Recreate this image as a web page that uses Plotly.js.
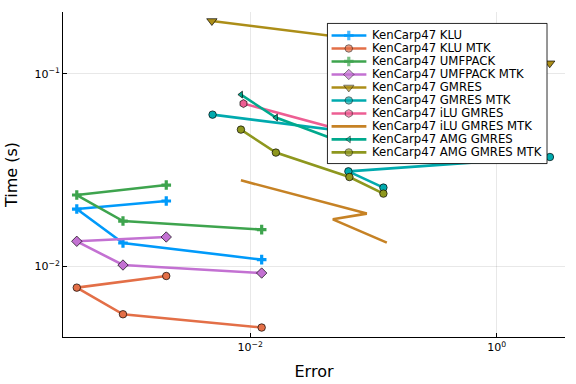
<!DOCTYPE html>
<html>
<head>
<meta charset="utf-8">
<script src="https://cdn.plot.ly/plotly-3.0.1.min.js"></script>
<style>html,body{margin:0;padding:0;background:#fff}#chart{width:576px;height:384px}</style>
</head>
<body>
<div id="chart"></div>
<script>
// ---- data (error, time in seconds) ----
const seriesNames = ["KenCarp47 KLU","KenCarp47 KLU MTK","KenCarp47 UMFPACK","KenCarp47 UMFPACK MTK","KenCarp47 GMRES","KenCarp47 GMRES MTK","KenCarp47 iLU GMRES","KenCarp47 iLU GMRES MTK","KenCarp47 AMG GMRES","KenCarp47 AMG GMRES MTK"];
const errDirect = [2.085e-3, 3.92e-4, 9.29e-4, 0.01239];
const timeKLU = [0.02189, 0.01989, 0.01326, 0.01087];
const timeKLU_MTK = [0.00894, 0.00778, 0.00566, 0.00483];
const timeUMFPACK = [0.02649, 0.02351, 0.01723, 0.01555];
const timeUMFPACK_MTK = [0.01424, 0.01353, 0.01019, 0.00926];
const errGMRES = [4.89e-3, 2.69];
const timeGMRES = [0.1879, 0.1134];
const errGMRES_MTK = [4.95e-3, 2.70, 0.0626, 0.1204];
const timeGMRES_MTK = [0.0614, 0.03702, 0.03120, 0.02569];
const errILU = [8.82e-3, 0.0975, 0.0589, 0.1365];
const timeILU = [0.07006, 0.04628, 0.04108, 0.03778];
const errILU_MTK = [8.41e-3, 0.0883, 0.04682, 0.1283];
const timeILU_MTK = [0.02803, 0.01883, 0.01759, 0.01332];
const errAMG = [8.41e-3, 0.01616, 0.0647, 0.1243];
const timeAMG = [0.07799, 0.05928, 0.04258, 0.03733];
const errAMG_MTK = [8.41e-3, 0.01616, 0.0638, 0.1204];
const timeAMG_MTK = [0.05135, 0.03903, 0.02915, 0.02391];

const xTickVals = [0.01, 1];
const xTickText = ["10<sup>\u22122</sup>", "10<sup>0</sup>"];
const yTickVals = [0.01, 0.1];
const yTickText = ["10<sup>\u22122</sup>", "10<sup>\u22121</sup>"];

// ---- styles ----
const colors = ["#009AFA","#E36F47","#3EA44E","#C371D2","#AC8E18","#00AAAE","#ED5E93","#C68225","#00A98D","#8E971E"];
const stroke = {color:"rgba(0,0,0,0.85)", width:0.8};
const markers = [
  {symbol:"cross", size:8, line:{width:0}},
  {symbol:"circle", size:7.5, line:stroke},
  {symbol:"cross", size:8, line:{width:0}},
  {symbol:"diamond", size:8, line:stroke},
  {symbol:"triangle-down", size:9, line:stroke},
  {symbol:"circle", size:7.5, line:stroke},
  {symbol:"hexagon", size:8, line:stroke},
  null,
  {symbol:"triangle-left", size:6, line:stroke},
  {symbol:"circle", size:7.5, line:stroke}
];
const xs = [errDirect, errDirect, errDirect, errDirect, errGMRES, errGMRES_MTK, errILU, errILU_MTK, errAMG, errAMG_MTK];
const ys = [timeKLU, timeKLU_MTK, timeUMFPACK, timeUMFPACK_MTK, timeGMRES, timeGMRES_MTK, timeILU, timeILU_MTK, timeAMG, timeAMG_MTK];

const LW = 2.6;
const W = 576, H = 384;
const M = {l:63, r:11, t:12, b:47};
const PW = W - M.l - M.r, PH = H - M.t - M.b;

const traces = [];
for (let i = 0; i < seriesNames.length; i++) {
  const mk = markers[i];
  const t = {
    type:"scatter", x: xs[i], y: ys[i], name: seriesNames[i],
    mode: mk ? "lines+markers" : "lines",
    line:{color:colors[i], width:LW},
    showlegend:false, xaxis:"x", yaxis:"y", cliponaxis:true
  };
  if (mk) t.marker = Object.assign({color:colors[i]}, mk);
  traces.push(t);
}

// ---- legend drawn in its own small subplot (box pixel units) ----
const box = {left:326.7, top:22.7, w:221, h:141.6};
const entry0 = 12.3, entryStep = 13.1;
const sampleX = [4.3, 21.6, 39.3];
const textX = 43.2;
traces.push({type:"scatter", x:[0, box.w, box.w, 0, 0], y:[0, 0, box.h, box.h, 0], mode:"lines",
  fill:"toself", fillcolor:"#ffffff", line:{color:"#000000", width:1}, showlegend:false,
  xaxis:"x2", yaxis:"y2", hoverinfo:"skip"});
const annotations = [];
for (let i = 0; i < seriesNames.length; i++) {
  const yy = entry0 + i * entryStep;
  const mk = markers[i];
  const t = {type:"scatter", x: sampleX, y:[yy, yy, yy], mode: mk ? "lines+markers" : "lines",
    line:{color:colors[i], width:LW}, showlegend:false, xaxis:"x2", yaxis:"y2", hoverinfo:"skip"};
  if (mk) t.marker = Object.assign({color:colors[i]}, mk, {size:[0, mk.size, 0]});
  traces.push(t);
  annotations.push({xref:"x2", yref:"y2", x:textX, y:yy, text:seriesNames[i], showarrow:false,
    xanchor:"left", yanchor:"middle", font:{family:"DejaVu Sans", size:11.7, color:"#000"}});
}
const dx0 = (box.left - M.l) / PW, dx1 = (box.left + box.w - M.l) / PW;
const dy1 = (M.t + PH - box.top) / PH, dy0 = (M.t + PH - box.top - box.h) / PH;

const axisCommon = {type:"log", showline:true, linecolor:"#000", linewidth:1, mirror:false,
  ticks:"inside", ticklen:4, tickcolor:"#000", tickwidth:1, showgrid:true,
  gridcolor:"rgba(0,0,0,0.09)", gridwidth:1, zeroline:false, tickmode:"array",
  tickfont:{family:"DejaVu Sans", size:11, color:"#000"}};

const layout = {
  width:W, height:H, margin:M, paper_bgcolor:"#fff", plot_bgcolor:"rgba(0,0,0,0)",
  font:{family:"DejaVu Sans", color:"#000"}, showlegend:false,
  xaxis: Object.assign({}, axisCommon, {domain:[0,1], range:[-3.5185, 0.5537], tickvals:xTickVals, ticktext:xTickText,
    title:{text:"Error", font:{family:"DejaVu Sans", size:16, color:"#000"}, standoff:12}}),
  yaxis: Object.assign({}, axisCommon, {domain:[0,1], range:[-2.3651, -0.6795], tickvals:yTickVals, ticktext:yTickText,
    title:{text:"Time (s)", font:{family:"DejaVu Sans", size:16, color:"#000"}, standoff:12}}),
  xaxis2:{domain:[dx0, dx1], range:[-0.6, box.w + 0.6], visible:false, fixedrange:true, anchor:"y2"},
  yaxis2:{domain:[dy0, dy1], range:[box.h + 0.6, -0.6], visible:false, fixedrange:true, anchor:"x2"},
  annotations: annotations
};
Plotly.newPlot("chart", traces, layout, {staticPlot:true, displayModeBar:false});
</script>
</body>
</html>
